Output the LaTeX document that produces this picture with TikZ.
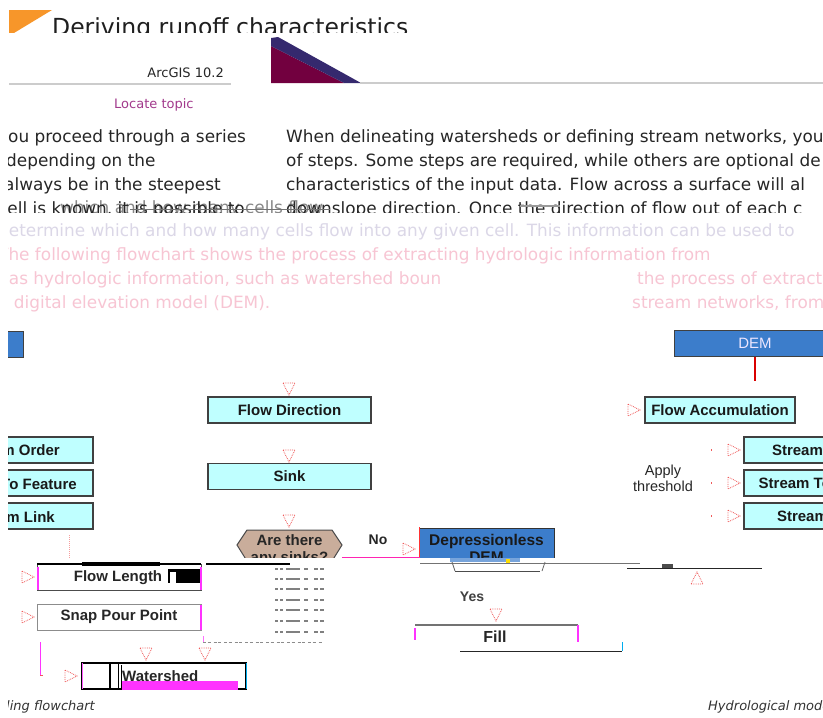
\documentclass[tikz,border=0pt]{standalone}
\usepackage{fontspec}
\setmainfont{DejaVu Sans}
\newfontfamily\lib{Liberation Sans}
\definecolor{boxcyan}{HTML}{BFFFFF}
\definecolor{demblue}{HTML}{3C7DCB}
\definecolor{demtext}{HTML}{EDE6FF}
\definecolor{hextan}{HTML}{C9AD9B}
\definecolor{maroonc}{HTML}{72003F}
\definecolor{navyp}{HTML}{35296E}
\definecolor{orangec}{HTML}{F7962A}
\definecolor{topic}{HTML}{A23A8C}
\definecolor{txt}{HTML}{262626}
\definecolor{arrowred}{HTML}{F05A5A}
\definecolor{mag}{HTML}{FF33FF}
\definecolor{faintA}{HTML}{B8B0D0}
\definecolor{faintB}{HTML}{F08CA8}
\tikzset{
  fbox/.style={draw=black!75, line width=1.1pt, fill=boxcyan, minimum height=26pt, minimum width=150pt, inner sep=0pt,
    font=\lib\bfseries\fontsize{15}{15}\selectfont, text=black!90},
  wbox/.style={draw=black!45, line width=0.8pt, fill=white, minimum height=26pt, minimum width=164pt, inner sep=0pt,
    font=\lib\bfseries\fontsize{15}{15}\selectfont, text=black!85},
  tip/.style={draw=arrowred, densely dotted, line width=0.8pt},
  body/.style={anchor=base west, inner sep=0pt, font=\fontsize{16.9}{16.9}\selectfont, text=txt},
  faint/.style={anchor=base west, inner sep=0pt, font=\fontsize{16.9}{16.9}\selectfont, opacity=0.5},
  lbl/.style={inner sep=0pt, font=\lib\bfseries\fontsize{14}{14}\selectfont, text=black!85},
  captxt/.style={inner sep=0pt, font=\itshape\fontsize{13}{13}\selectfont, text=black!80},
}
\newcommand\tipdown[2]{\draw[tip] ({#1-6},{#2}) -- ({#1+6},{#2}) -- ({#1},{#2+12}) -- cycle;}
\newcommand\tipup[2]{\draw[tip] ({#1-6},{#2+12}) -- ({#1+6},{#2+12}) -- ({#1},{#2}) -- cycle;}
\newcommand\tipright[2]{\draw[tip] ({#1},{#2-6}) -- ({#1},{#2+6}) -- ({#1+12},{#2}) -- cycle;}
\begin{document}
\begin{tikzpicture}[x=1pt,y=-1pt]
\useasboundingbox (0,0) rectangle (823,718);
\fill[white] (0,0) rectangle (823,718);
\begin{scope}
\clip (8,0) rectangle (823,718);

% ---------- header ----------
\begin{scope}
\clip (0,0) rectangle (823,32);
\fill[orangec] (9,10) -- (52,10) -- (9,36) -- cycle;
\node[anchor=base west, inner sep=0pt, font=\fontsize{23.5}{23.5}\selectfont, text=black!88] (title) at (52,35) {Deriving runoff characteristics};
\end{scope}
\fill[maroonc] (271,46) -- (344,83) -- (271,83) -- cycle;
\fill[navyp] (271,38) -- (278,37) -- (361,83) -- (344,83) -- (271,46) -- cycle;
\draw[black!20, line width=1.2pt] (9,84) -- (231,84);
\draw[black!20, line width=1.2pt] (360,83) -- (823,83);
\node[anchor=base east, inner sep=0pt, font=\fontsize{13}{13}\selectfont, text=black!85] (ver) at (224,77) {ArcGIS 10.2};
\node[anchor=base west, inner sep=0pt, font=\fontsize{13}{13}\selectfont, text=topic] (locate) at (114,108) {Locate topic};

% ---------- paragraph ----------
\node[body] (l1) at (-2,142) {you proceed through a series};
\node[body] (l2) at (6,166) {depending on the};
\node[body] (l3) at (4,190) {always be in the steepest};
\node[body] (r1) at (286,142) {When delineating watersheds or defining stream networks, you};
\node[body] (r2) at (286,166) {of steps. Some steps are required, while others are optional de};
\node[body] (r3) at (286,190) {characteristics of the input data. Flow across a surface will al};
\begin{scope}
\clip (0,197) rectangle (823,212);
\node[body] (l4) at (-2,214) {cell is known, it is possible to};
\node[body, opacity=0.55] (l4b) at (60,213) {which and how many cells flow};
\node[body] (r4) at (286,214) {downslope direction. Once the direction of flow out of each c};
\end{scope}
\draw[black!55, line width=0.8pt] (130,209) -- (330,209);
\draw[black!40, line width=1.5pt] (520,206) -- (560,206);
\node[faint, text=faintA] (l5) at (-2,236) {determine which and how many cells flow into any given cell. This information can be used to};
\node[faint, text=faintB] (l6) at (-2,260) {The following flowchart shows the process of extracting hydrologic information from};
\node[faint, text=faintB] (l7) at (-2,284) {has hydrologic information, such as watershed boun};
\node[faint, text=faintB] (l8) at (-2,308) {a digital elevation model (DEM).};
\node[faint, text=faintB] (r7) at (637,284) {the process of extracti};
\node[faint, text=faintB] (r8) at (632,308) {stream networks, from};

% ---------- flowchart ----------
\node[draw=black!75, line width=1pt, fill=demblue, minimum width=162pt, minimum height=26pt, inner sep=0pt,
  font=\lib\fontsize{15}{15}\selectfont, text=demtext] (demR) at (755,343) {DEM};
\node[draw=black!75, line width=1pt, fill=demblue, minimum width=60pt, minimum height=26pt, inner sep=0pt] (demL) at (-7,344) {};
\coordinate (demEnd) at (755,381);
\draw[red!85!black, line width=2pt] (demR.south) -- (demEnd);

\tipdown{289}{383}
\node[fbox, minimum width=163pt] (flowdir) at (289.5,410) {Flow Direction};
\tipdown{289}{450}
\node[fbox, minimum width=163pt] (sink) at (289.5,476.5) {Sink};
\tipdown{289}{515}

\begin{scope}
\clip (0,520) rectangle (823,557);
\draw[fill=hextan, draw=black!70, line width=1pt] (237,545) -- (247,530) -- (332,530) -- (342,545) -- (332,561) -- (247,561) -- cycle;
\node[lbl, align=center, font=\lib\bfseries\fontsize{15}{16.5}\selectfont] (sinks) at (289.5,550) {Are there\\any sinks?};
\node[draw=black!80, line width=1pt, fill=demblue, minimum width=135pt, minimum height=40pt, inner sep=0pt,
  align=center, font=\lib\bfseries\fontsize{15.5}{17}\selectfont, text=black!90] (depdem) at (486.5,548) {Depressionless\\DEM};
\end{scope}
\draw[red!80, line width=1pt] (419,527) -- (419,557);
\node[lbl] (no) at (378,540) {No};
\tipright{403}{549}
\draw[mag!70!red, line width=0.8pt] (342,557) -- (420,557);

% glitch strokes under Depressionless DEM
\draw[black!55, line width=1pt] (420,563) -- (640,563);
\draw[black!70, line width=1pt] (455,571) -- (540,571);
\draw[black!60, line width=0.8pt] (452,562) -- (455,571);
\draw[black!60, line width=0.8pt] (545,562) -- (542,571);
\fill[demblue!70] (450,558) rectangle (520,562);
\fill[yellow!80!orange] (506,559) rectangle (510,563);
\draw[black!85, line width=1pt] (627,568) -- (762,568);
\fill[black!70] (662,564) rectangle (673,568);
\tipup{697}{572}

\node[lbl, text=black!75] (yes) at (472,597) {Yes};
\tipdown{496}{609}
% Fill (glitched box)
\draw[black!55, line width=1.5pt] (415,625) -- (578,625);
\draw[mag, line width=1.2pt] (415,628) -- (415,640);
\draw[mag, line width=1.2pt] (578,625) -- (578,642);
\draw[black!85, line width=1pt] (460,651) -- (622,651);
\draw[cyan, line width=1pt] (622,642) -- (622,651);
\node[lbl, font=\lib\bfseries\fontsize{16}{16}\selectfont] (fill) at (495,637) {Fill};

\tipright{628}{410}
\node[fbox] (flowacc) at (720,410) {Flow Accumulation};
\node[lbl, font=\lib\fontsize{14.5}{16}\selectfont, align=center, text=black!85] (thr) at (663,478) {Apply\\threshold};
\foreach \yy/\nm/\tx/\cx in {450/sOrd/Stream Order/820, 483/sFeat/Stream To Feature/824, 516/sLink/Stream Link/820}{
  \tipright{728}{\yy}
  \fill[arrowred] (711,{\yy-1}) rectangle (712,{\yy+1});
  \node[fbox, minimum width={2*(\cx-744)}] (\nm R) at (\cx,\yy) {\tx};
  \node[fbox] (\nm L) at (18,\yy) {};
}
\node[anchor=east, inner sep=0pt, font=\lib\bfseries\fontsize{15}{15}\selectfont, text=black!90] (tOrd) at (60,450) {Stream Order};
\node[anchor=east, inner sep=0pt, font=\lib\bfseries\fontsize{15}{15}\selectfont, text=black!90] (tFeat) at (77,484) {Stream To Feature};
\node[anchor=east, inner sep=0pt, font=\lib\bfseries\fontsize{15}{15}\selectfont, text=black!90] (tLink) at (55,517) {Stream Link};
\draw[arrowred!60, densely dotted, line width=1pt] (69,535) -- (69,558);

% Flow Length (glitched)
\tipright{22}{577}
\node[wbox, draw=black!70] (flowlen) at (119,577) {};
\node[lbl, font=\lib\bfseries\fontsize{15}{15}\selectfont] (flowlent) at (118,578) {Flow Length};
\draw[black, line width=1.6pt] (37,564) -- (201,564);
\fill[black] (82,562) rectangle (160,566);
\fill[black] (168,569) rectangle (200,583);
\fill[white] (170,572) rectangle (176,583);
\draw[mag, line width=1.2pt] (38,567) -- (38,590);
\draw[mag, line width=1.2pt] (201,567) -- (201,590);
\draw[black, line width=1.2pt] (206,564) -- (290,564);

\tipright{22}{617}
\node[wbox] (snap) at (119,617) {Snap Pour Point};
\draw[mag, line width=1.2pt] (201,605) -- (201,630);

% dashed grid
\foreach \yy in {569,579,589,600,610,621,632}{
  \draw[black!50, line width=1.2pt, dash pattern=on 3pt off 2pt on 3pt off 3pt on 14pt off 4pt on 4pt off 6pt on 4pt off 2pt on 4pt off 20pt] (275,\yy) -- (341,\yy);
}
\draw[black!45, line width=1pt, dash pattern=on 3pt off 1.5pt on 3pt off 3pt] (203,642) -- (323,642);
\draw[mag!70, line width=0.8pt] (203,636) -- (203,642);

\tipdown{146}{648}
\tipdown{205}{648}
\draw[mag, line width=1pt] (40,642) -- (40,675);
\draw[arrowred, line width=1pt] (40,675) -- (43,675);
\tipright{65}{676}
\node[draw=black, line width=1.2pt, fill=white, minimum width=164pt, minimum height=26pt, inner sep=0pt] (watershed) at (164,676) {};
\draw[mag!80, line width=1pt] (82,663) -- (82,689);
\fill[mag] (122,681) rectangle (238,690);
\draw[black, line width=1.6pt] (110,663) -- (110,689);
\draw[black, line width=1pt] (118,663) -- (118,689);
\draw[black, line width=1pt] (121,665) -- (121,689);
\node[anchor=west, lbl, font=\lib\bfseries\fontsize{15}{15}\selectfont] (wsh) at (122,676) {Watershed};
\draw[cyan, line width=1pt] (246,663) -- (246,689);

% captions
\node[captxt, anchor=base east] (capL) at (95,710) {Hydrological modeling flowchart};
\node[captxt, anchor=base west] (capR) at (708,710) {Hydrological modeling flowchart};
\end{scope}
\end{tikzpicture}
\end{document}
